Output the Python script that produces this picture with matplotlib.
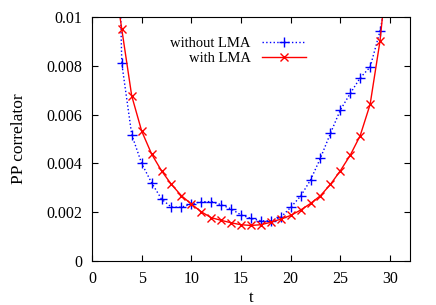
import numpy as np
import matplotlib
matplotlib.use("Agg")
import matplotlib.pyplot as plt

plt.rcParams['font.family'] = ['Liberation Serif', 'DejaVu Serif']

t = list(range(2, 31))
without_lma = [0.026, 0.0081, 0.00518, 0.0040, 0.00321, 0.00254, 0.00221, 0.00221, 0.00234,
               0.00243, 0.00244, 0.00231, 0.00214, 0.00189, 0.00175, 0.00165, 0.00165,
               0.00179, 0.0022, 0.00266, 0.00332, 0.00422, 0.00523, 0.00619, 0.00687,
               0.00751, 0.00795, 0.00943, 0.0116]
with_lma = [0.0123, 0.0095, 0.00677, 0.00533, 0.00439, 0.0037, 0.00314, 0.00268, 0.00234,
            0.00202, 0.00178, 0.00167, 0.00157, 0.00149, 0.00146, 0.00149, 0.00159,
            0.00172, 0.00187, 0.00209, 0.00236, 0.00268, 0.00314, 0.0037, 0.00434,
            0.00514, 0.00642, 0.00903, 0.0131]

fig = plt.figure(figsize=(4.36, 3.05), dpi=100)
ax = fig.add_axes([0.211, 0.144, 0.729, 0.8])

ax.plot(t, without_lma, color='#0000ff', linestyle=':', linewidth=1.0,
        marker='+', markersize=7, markeredgewidth=1.0, label='without LMA')
ax.plot(t, with_lma, color='#ff0000', linestyle='-', linewidth=1.0,
        marker='x', markersize=6, markeredgewidth=1.0, label='with LMA')

ax.set_xlim(0, 32)
ax.set_ylim(0, 0.01)
ax.set_xticks([0, 5, 10, 15, 20, 25, 30])
ax.set_yticks([0, 0.002, 0.004, 0.006, 0.008, 0.01])
ax.set_yticklabels(['0', '0.002', '0.004', '0.006', '0.008', '0.01'])
ax.tick_params(direction='in', top=True, right=True, labelsize=11.5, length=4, pad=7)
ax.set_xlabel('t', fontsize=12, labelpad=2)
ax.set_ylabel('PP correlator', fontsize=12.5, labelpad=14)

ax.legend(loc='upper center', bbox_to_anchor=(0.46, 0.965), frameon=False, markerfirst=False,
          fontsize=10.5, handlelength=3.0, borderpad=0.3, labelspacing=0.1, handletextpad=0.8)

fig.savefig('out.png', dpi=100)
